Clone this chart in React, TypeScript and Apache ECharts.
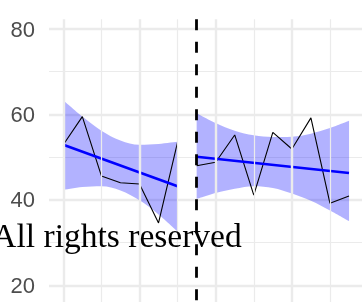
import React, { useEffect, useRef } from "react";
import * as echarts from "echarts";

// ---- data ----
const xLeft = [0, 1, 2, 3, 4, 5, 6];
const yLeft = [52.9, 59.5, 45.6, 44.0, 43.7, 34.6, 53.5];
const bandLeftUpper = [63.3, 59.5, 56.2, 53.9, 52.9, 53.1, 53.6];
const bandLeftLower = [42.3, 43.0, 43.2, 42.2, 39.9, 36.6, 32.6];
const fitLeftX = [0, 6];
const fitLeftY = [52.9, 43.2];

const xRight = [7, 8, 9, 10, 11, 12, 13, 14, 15];
const yRight = [48.0, 48.8, 55.2, 41.1, 55.8, 51.9, 59.2, 39.2, 40.9];
const bandRightUpper = [60.3, 58.0, 56.2, 55.1, 54.7, 54.8, 55.5, 56.8, 58.5];
const bandRightLower = [40.2, 41.6, 42.6, 43.2, 42.8, 41.5, 39.8, 37.5, 35.0];
const fitRightX = [7, 15];
const fitRightY = [50.1, 46.3];

const breakX = 7;
const xMajorBreaks = [0, 4, 8, 12];
const xMinorBreaks = [2, 6, 10, 14];
const yTickLabels = [20, 40, 60, 80];
const watermark = "All rights reserved";

const X_MIN = -0.75;
const X_MAX = 15.75;
const PANEL_TOP = 82.27;
const PANEL_BOTTOM = 0;

const allX = [...xLeft, ...xRight];
const xCats = allX.map(String);

const zip = (xs: number[], ys: number[]) => xs.map((x, i) => [x, ys[i]]);

// values placed on the full category list, '-' where the segment has no data
const onCats = (xs: number[], vals: number[]) =>
  allX.map((x) => {
    const i = xs.indexOf(x);
    return i >= 0 ? vals[i] : "-";
  });

export default function App() {
  const ref = useRef<HTMLDivElement>(null);
  useEffect(() => {
    if (!ref.current) return;
    const chart = echarts.init(ref.current, null, { renderer: "svg" });

    const vLine = (x: number, lineStyle?: any) => [
      { coord: [x, PANEL_TOP], ...(lineStyle ? { lineStyle } : {}) },
      { coord: [x, PANEL_BOTTOM] },
    ];

    const bandSeries = (xs: number[], lower: number[], upper: number[], stack: string) => [
      {
        type: "line",
        xAxisIndex: 1,
        yAxisIndex: 1,
        data: onCats(xs, lower),
        stack,
        smooth: 0.35,
        showSymbol: false,
        symbol: "none",
        lineStyle: { opacity: 0, width: 0 },
        silent: true,
        z: 2,
      },
      {
        type: "line",
        xAxisIndex: 1,
        yAxisIndex: 1,
        data: onCats(
          xs,
          upper.map((u, i) => +(u - lower[i]).toFixed(2))
        ),
        stack,
        smooth: 0.35,
        showSymbol: false,
        symbol: "none",
        lineStyle: { opacity: 0, width: 0 },
        areaStyle: { color: "rgba(0,0,255,0.3)", opacity: 1 },
        silent: true,
        z: 2,
      },
    ];

    const plainLine = (data: number[][], color: string, width: number, z: number) => ({
      type: "line",
      data,
      showSymbol: false,
      symbol: "none",
      lineStyle: { color, width },
      silent: true,
      z,
    });

    const hiddenAxis = {
      axisLine: { show: false },
      axisTick: { show: false },
      axisLabel: { show: false },
      splitLine: { show: false },
    };

    chart.setOption({
      animation: false,
      grid: [
        {
          left: 49,
          top: -56.4,
          width: 314.3,
          height: 427.1,
          containLabel: false,
          outerBoundsMode: "none",
        },
        {
          left: 63.3,
          top: -56.4,
          width: 285.75,
          height: 427.1,
          containLabel: false,
          outerBoundsMode: "none",
        },
      ],
      xAxis: [
        { type: "value", gridIndex: 0, min: X_MIN, max: X_MAX, ...hiddenAxis },
        { type: "category", gridIndex: 1, data: xCats, boundaryGap: false, ...hiddenAxis },
      ],
      yAxis: [
        {
          type: "value",
          gridIndex: 0,
          min: 0,
          max: 100,
          interval: 20,
          axisLine: { show: false },
          axisTick: { show: false },
          axisLabel: {
            margin: 14,
            fontSize: 22,
            color: "#4d4d4d",
            fontFamily: "Liberation Sans, Arial, sans-serif",
            formatter: (v: number) => (yTickLabels.includes(v) ? String(v) : ""),
          },
          splitLine: { show: true, lineStyle: { color: "#ebebeb", width: 2.4 } },
          minorTick: { show: false, splitNumber: 2 },
          minorSplitLine: { show: true, lineStyle: { color: "#ebebeb", width: 1.2 } },
        },
        { type: "value", gridIndex: 1, min: 0, max: 100, ...hiddenAxis },
      ],
      graphic: [
        {
          type: "text",
          x: 241.7,
          y: 235.3,
          z: 100,
          silent: true,
          style: {
            text: watermark,
            fontSize: 33.5,
            fontFamily: "Liberation Serif, serif",
            fill: "#000",
            align: "right",
            textAlign: "right",
            verticalAlign: "middle",
            textVerticalAlign: "middle",
          },
        },
      ],
      series: [
        {
          type: "line",
          data: [],
          silent: true,
          z: 1,
          markLine: {
            silent: true,
            symbol: ["none", "none"],
            label: { show: false },
            emphasis: { disabled: true },
            data: [
              ...xMajorBreaks.map((x) =>
                vLine(x, { color: "#ebebeb", width: 2.4, type: "solid" })
              ),
              ...xMinorBreaks.map((x) =>
                vLine(x, { color: "#ebebeb", width: 1.2, type: "solid" })
              ),
            ],
          },
        },
        ...bandSeries(xLeft, bandLeftLower, bandLeftUpper, "bandL"),
        ...bandSeries(xRight, bandRightLower, bandRightUpper, "bandR"),
        plainLine(zip(xLeft, yLeft), "#000000", 1.1, 3),
        plainLine(zip(xRight, yRight), "#000000", 1.1, 3),
        plainLine(zip(fitLeftX, fitLeftY), "#0000ff", 2.6, 4),
        plainLine(zip(fitRightX, fitRightY), "#0000ff", 2.6, 4),
        {
          type: "line",
          data: [],
          silent: true,
          z: 5,
          markLine: {
            silent: true,
            symbol: ["none", "none"],
            label: { show: false },
            emphasis: { disabled: true },
            lineStyle: { color: "#000000", width: 2.8, type: [11, 11.5] },
            data: [vLine(breakX)],
          },
        },
      ],
    });
    return () => chart.dispose();
  }, []);
  return (
    <div
      ref={ref}
      style={{ position: "fixed", left: 0, top: 0, width: 362, height: 302 }}
    />
  );
}
